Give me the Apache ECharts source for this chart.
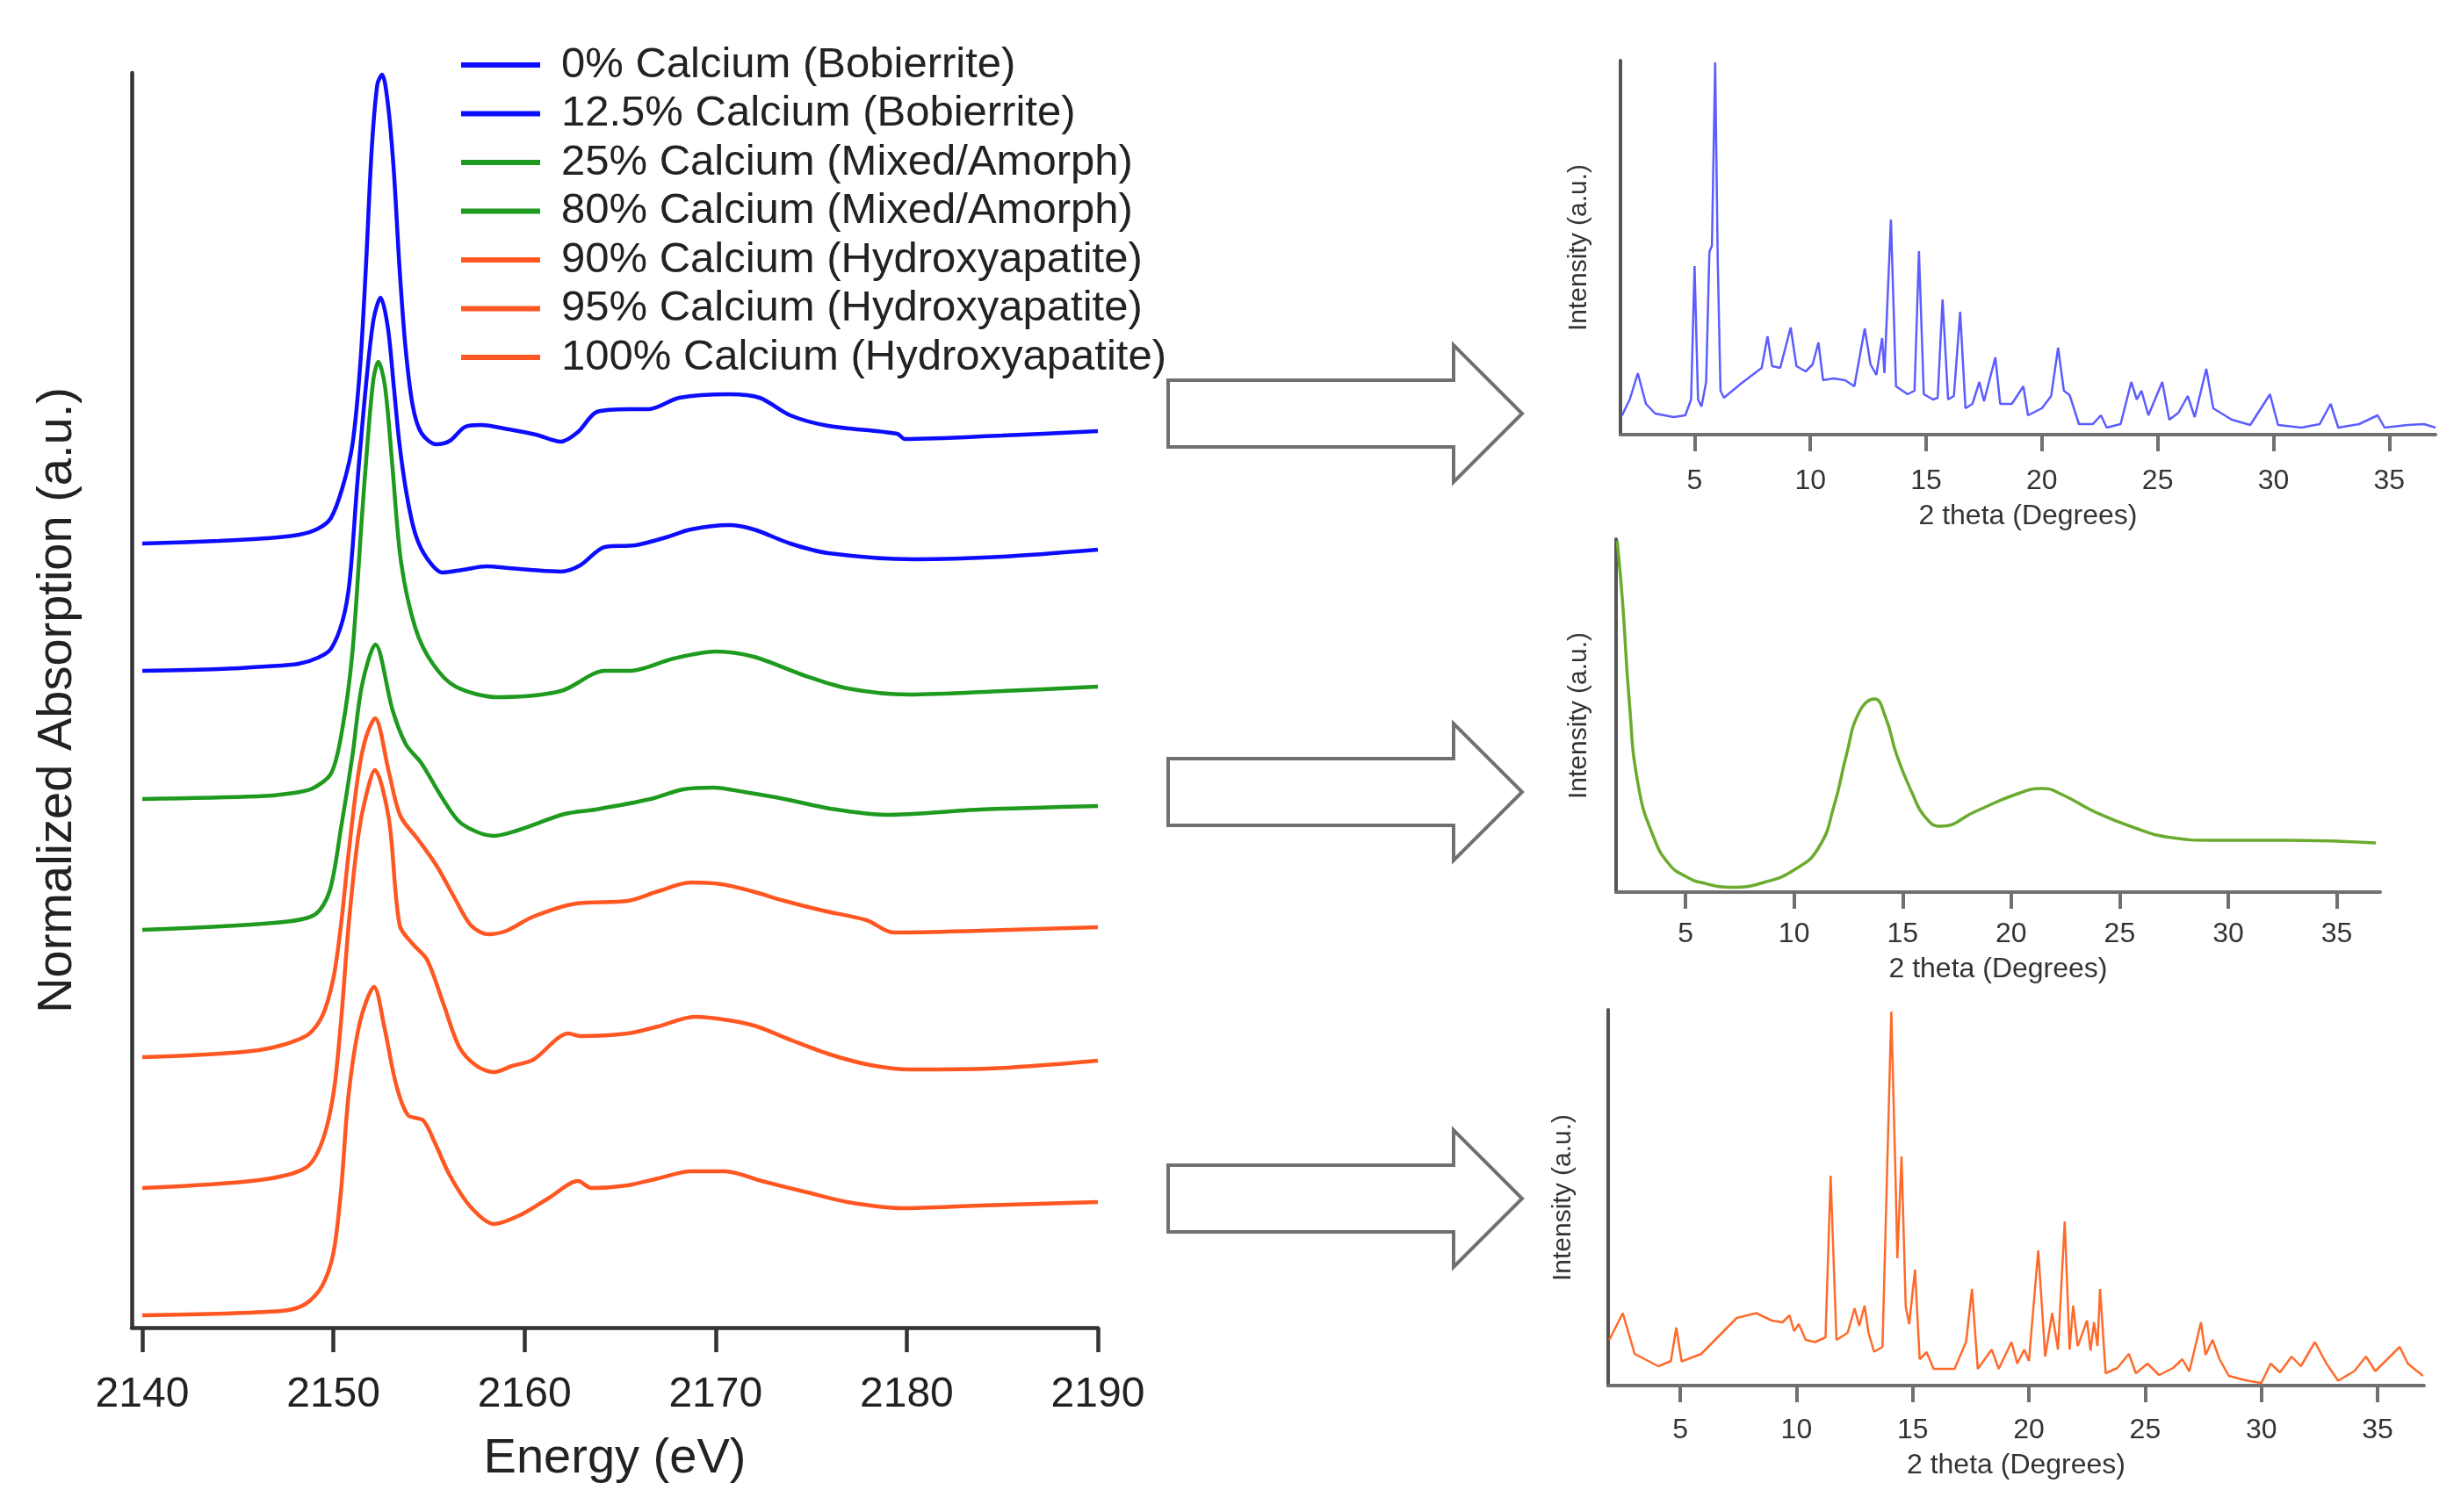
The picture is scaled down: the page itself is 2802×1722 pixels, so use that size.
<!DOCTYPE html>
<html>
<head>
<meta charset="utf-8">
<script src="https://cdn.jsdelivr.net/npm/echarts@6/dist/echarts.min.js"></script>
<style>
html,body{margin:0;padding:0;background:#fff;}
#c{width:2802px;height:1722px;}
</style>
</head>
<body>
<div id="c"></div>
<script>
// ---------- XANES spectra (Energy eV, normalized absorption incl. vertical offset) ----------
var seriesNames = [
  '0% Calcium (Bobierrite)',
  '12.5% Calcium (Bobierrite)',
  '25% Calcium (Mixed/Amorph)',
  '80% Calcium (Mixed/Amorph)',
  '90% Calcium (Hydroxyapatite)',
  '95% Calcium (Hydroxyapatite)',
  '100% Calcium (Hydroxyapatite)'
];
var ca0 = [[2140,8.93],[2144,8.96],[2146.5,8.99],[2148.2,9.03],[2149.2,9.1],[2149.87,9.22],[2150.48,9.57],[2151.0,10.06],[2151.4,10.95],[2151.7,12.07],[2152.0,13.4],[2152.3,14.16],[2152.55,14.27],[2152.85,13.94],[2153.16,13.18],[2153.46,12.07],[2153.77,11.17],[2154.15,10.5],[2154.6,10.19],[2155.38,10.06],[2156.1,10.1],[2156.9,10.26],[2157.7,10.28],[2159.2,10.23],[2160.6,10.17],[2161.9,10.09],[2162.8,10.2],[2163.8,10.43],[2165.5,10.46],[2166.5,10.46],[2168.1,10.59],[2170.7,10.63],[2172.3,10.59],[2173.9,10.39],[2175.9,10.27],[2179.5,10.18],[2179.9,10.12],[2185,10.16],[2190,10.21]];
var ca12 = [[2140,7.48],[2144,7.50],[2146.5,7.53],[2148.18,7.56],[2149.2,7.63],[2149.87,7.73],[2150.48,8.05],[2150.85,8.5],[2151.25,9.61],[2151.7,10.72],[2152.1,11.48],[2152.47,11.73],[2152.85,11.39],[2153.16,10.72],[2153.46,10.06],[2153.85,9.47],[2154.3,9.03],[2154.9,8.76],[2155.7,8.6],[2156.76,8.63],[2158.0,8.67],[2159.2,8.65],[2160.3,8.63],[2161.9,8.61],[2162.9,8.68],[2164.2,8.89],[2165.8,8.91],[2167.4,9.0],[2168.7,9.09],[2170.7,9.14],[2172.0,9.09],[2173.9,8.93],[2175.9,8.82],[2180.4,8.75],[2185,8.78],[2190,8.86]];
var ca25 = [[2140,6.02],[2146,6.05],[2147.6,6.08],[2148.9,6.14],[2149.9,6.32],[2150.5,6.86],[2151.0,7.7],[2151.47,9.16],[2151.78,10.06],[2152.1,10.81],[2152.35,11.0],[2152.7,10.72],[2153.08,9.83],[2153.54,8.72],[2154.3,7.96],[2155.2,7.56],[2156.4,7.30],[2158.6,7.18],[2161.9,7.25],[2164.2,7.48],[2165.5,7.48],[2167.8,7.62],[2170.0,7.70],[2172.0,7.64],[2174.6,7.43],[2176.9,7.28],[2180.1,7.21],[2185,7.25],[2190,7.30]];
var ca80 = [[2140,4.53],[2146.9,4.61],[2149.0,4.70],[2149.8,4.97],[2150.4,5.69],[2151.0,6.52],[2151.5,7.32],[2152.2,7.78],[2153.1,7.03],[2153.8,6.64],[2154.6,6.43],[2155.7,6.03],[2156.7,5.74],[2158.4,5.60],[2159.6,5.66],[2162.1,5.85],[2163.7,5.90],[2166.6,6.02],[2168.3,6.13],[2169.9,6.15],[2171.5,6.10],[2173.6,6.02],[2176.0,5.91],[2178.9,5.84],[2183.8,5.90],[2190,5.94]];
var ca90 = [[2140,3.08],[2146.1,3.16],[2148.55,3.32],[2149.4,3.54],[2150.0,3.98],[2150.4,4.59],[2150.8,5.41],[2151.3,6.3],[2151.7,6.72],[2152.18,6.94],[2152.9,6.33],[2153.5,5.83],[2154.46,5.55],[2155.4,5.26],[2156.3,4.91],[2157.2,4.58],[2158.1,4.48],[2159.06,4.52],[2160.45,4.68],[2162.7,4.83],[2165.4,4.86],[2167.0,4.97],[2168.7,5.07],[2170.3,5.05],[2171.9,4.97],[2173.6,4.86],[2175.6,4.75],[2177.9,4.64],[2179.3,4.50],[2183.8,4.52],[2190,4.56]];
var ca95 = [[2140,1.59],[2146.1,1.68],[2148.55,1.82],[2149.4,2.11],[2150.0,2.66],[2150.4,3.49],[2150.8,4.59],[2151.3,5.6],[2151.7,6.05],[2152.17,6.35],[2152.9,5.80],[2153.47,4.58],[2154.15,4.37],[2154.9,4.19],[2155.8,3.66],[2156.6,3.19],[2157.5,2.98],[2158.4,2.91],[2159.35,2.98],[2160.45,3.05],[2162.3,3.35],[2162.9,3.32],[2165.4,3.35],[2167.0,3.43],[2168.9,3.54],[2170.7,3.50],[2172.15,3.43],[2174.0,3.27],[2176.0,3.11],[2178.1,2.99],[2180.2,2.94],[2184.3,2.95],[2190,3.04]];
var ca100 = [[2140,0.14],[2147.3,0.19],[2148.55,0.27],[2149.4,0.47],[2150.0,0.85],[2150.4,1.56],[2150.8,2.66],[2151.4,3.49],[2152.13,3.88],[2152.66,3.43],[2153.28,2.77],[2153.9,2.42],[2154.7,2.36],[2155.3,2.11],[2156.1,1.73],[2157.2,1.37],[2158.4,1.18],[2159.85,1.29],[2161.3,1.48],[2162.8,1.67],[2163.5,1.59],[2165.4,1.62],[2167.0,1.70],[2168.7,1.78],[2170.5,1.78],[2172.4,1.67],[2174.8,1.54],[2176.9,1.43],[2179.75,1.36],[2183.8,1.39],[2190,1.43]];
var energyTicks = [2140,2150,2160,2170,2180,2190];

// ---------- XRD patterns (2 theta deg, intensity a.u.) ----------
var xrdBlue = [[1.87,22],[2.2,40],[2.55,70],[2.9,35],[3.3,24],[4.1,20],[4.6,22],[4.85,40],[5.0,192],[5.15,40],[5.3,32],[5.5,60],[5.64,208],[5.75,215],[5.89,424],[6.0,200],[6.12,50],[6.27,42],[7.0,58],[7.9,76],[8.15,112],[8.35,78],[8.7,76],[9.15,122],[9.4,78],[9.8,72],[10.1,80],[10.35,105],[10.55,62],[11.0,64],[11.5,62],[11.9,55],[12.35,121],[12.6,80],[12.85,68],[13.1,110],[13.2,70],[13.48,245],[13.7,55],[14.2,46],[14.5,50],[14.69,209],[14.9,46],[15.3,40],[15.5,42],[15.71,154],[15.95,40],[16.2,44],[16.47,140],[16.7,30],[17.0,35],[17.3,60],[17.5,38],[17.99,88],[18.2,35],[18.7,35],[19.2,55],[19.4,22],[20.0,30],[20.4,44],[20.7,99],[20.95,50],[21.2,45],[21.6,12],[22.2,12],[22.55,22],[22.8,8],[23.4,12],[23.86,60],[24.1,40],[24.3,50],[24.6,22],[25.2,60],[25.5,17],[25.9,25],[26.3,44],[26.6,20],[27.1,75],[27.4,30],[28.2,17],[29.0,11],[29.85,46],[30.2,11],[31.2,8],[32.0,12],[32.47,35],[32.8,8],[33.7,12],[34.5,22],[34.8,8],[35.8,11],[36.5,12],[37,8]];
var xrdGreen = [[1.85,400],[2.1,330],[2.4,220],[2.82,122],[3.54,62],[4.27,31],[5.0,18],[5.71,11],[7.16,5.5],[8.6,11],[10.05,26],[11.14,51],[11.86,100],[12.4,155],[13.0,205],[13.7,220],[14.2,200],[14.74,155],[15.47,111],[16.02,86],[16.75,75],[18.37,92],[20.18,111],[21.44,118],[22.35,111],[23.8,92],[25.6,74],[27.4,62],[29.2,59],[32.8,59],[36.8,56]];
var xrdOrange = [[1.95,52],[2.53,82.5],[3.04,36],[4.06,22],[4.6,28],[4.83,66],[5.06,27.5],[5.9,36],[7.43,77],[8.27,82.5],[8.94,74],[9.4,72],[9.7,80],[9.9,62],[10.1,70],[10.4,52],[10.8,49.5],[11.25,55],[11.47,239],[11.72,52],[12.2,60],[12.5,88],[12.7,68],[12.93,91],[13.1,60],[13.34,38.5],[13.7,44],[14.08,426],[14.25,250],[14.34,145],[14.52,261],[14.7,90],[14.85,70],[15.1,132],[15.3,30],[15.6,38],[15.9,19],[16.8,19],[17.3,50],[17.55,110],[17.8,19],[18.4,41],[18.7,19],[19.25,49.5],[19.5,25],[19.8,41],[20.0,28],[20.4,154],[20.7,33],[21.0,82.5],[21.25,41],[21.54,187],[21.75,41],[21.9,91],[22.1,45],[22.5,74],[22.65,40],[22.8,72],[22.95,45],[23.06,110],[23.3,14],[23.8,20],[24.3,36],[24.6,14],[25.1,25],[25.6,12],[26.2,20],[26.6,30],[26.9,16],[27.2,49.5],[27.4,72],[27.6,35],[27.9,52],[28.2,30],[28.6,11],[29.4,5.5],[30.0,3],[30.4,25],[30.8,15],[31.3,33],[31.7,22],[32.3,49.5],[32.8,25],[33.3,5.5],[34.0,16.5],[34.5,33],[34.9,16.5],[35.95,44],[36.3,25],[36.95,11]];
var thetaTicks = [5,10,15,20,25,30,35];

var FONT = "'Liberation Sans', Arial, Helvetica, sans-serif";
var BLUE = '#0c0cff', GREEN = '#1e9a1e', ORANGE = '#ff5722';
var xanesColors = [BLUE, BLUE, GREEN, GREEN, ORANGE, ORANGE, ORANGE];
var xanesData = [ca0, ca12, ca25, ca80, ca90, ca95, ca100];

var chart = echarts.init(document.getElementById('c'), null, {renderer:'canvas', width:2802, height:1722});

function plain(v){ return String(v); }

function xrdX(idx, min, max, labelMargin, nameGap){
  return {
    type:'value', gridIndex:idx, min:min, max:max,
    axisLine:{show:true, onZero:false, lineStyle:{color:'#707070', width:4}},
    axisTick:{show:true, inside:false, length:19, customValues:thetaTicks, lineStyle:{color:'#707070', width:4}},
    axisLabel:{show:true, customValues:thetaTicks, formatter:plain, fontSize:32, color:'#333', fontFamily:FONT, margin:labelMargin},
    splitLine:{show:false},
    name:'2 theta (Degrees)', nameLocation:'middle', nameGap:nameGap,
    nameTextStyle:{fontSize:32, color:'#333', fontFamily:FONT}
  };
}
function xrdY(idx, max, nameGap){
  return {
    type:'value', gridIndex:idx, min:0, max:max,
    axisLine:{show:true, onZero:false, lineStyle:{color:'#555', width:4}},
    axisTick:{show:false}, axisLabel:{show:false}, splitLine:{show:false},
    name:'Intensity (a.u.)', nameLocation:'middle', nameGap:nameGap,
    nameTextStyle:{fontSize:30, color:'#333', fontFamily:FONT}
  };
}

var series = [];
for (var i = 0; i < xanesData.length; i++) {
  series.push({
    name: seriesNames[i], type:'line', xAxisIndex:0, yAxisIndex:0,
    data: xanesData[i], showSymbol:false, smooth:0.3, color: xanesColors[i],
    lineStyle:{width:4.5, color: xanesColors[i]}, animation:false, z:3
  });
}
series.push({type:'line', xAxisIndex:1, yAxisIndex:1, data:xrdBlue, showSymbol:false, lineStyle:{width:2.5, color:'#5c5cff'}, animation:false});
series.push({type:'line', xAxisIndex:2, yAxisIndex:2, data:xrdGreen, showSymbol:false, smooth:0.5, lineStyle:{width:3.5, color:'#6aab2e'}, animation:false});
series.push({type:'line', xAxisIndex:3, yAxisIndex:3, data:xrdOrange, showSymbol:false, lineStyle:{width:2.5, color:'#ff6a2a'}, animation:false});

function arrow(cy){
  var L = 1330, B = 1655, T = 1733, bh = 38, hh = 78;
  return {
    type:'polygon', z:1,
    shape:{points:[[L,cy-bh],[B,cy-bh],[B,cy-hh],[T,cy],[B,cy+hh],[B,cy+bh],[L,cy+bh]]},
    style:{fill:'#fff', stroke:'#707070', lineWidth:4}
  };
}

chart.setOption({
  backgroundColor:'#fff',
  animation:false,
  textStyle:{fontFamily:FONT},
  grid:[
    {left:150, top:83, width:1100, height:1429, containLabel:false, outerBoundsMode:'none'},
    {left:1845, top:69, width:928, height:426, containLabel:false, outerBoundsMode:'none'},
    {left:1840, top:614, width:870, height:402, containLabel:false, outerBoundsMode:'none'},
    {left:1831, top:1150, width:929, height:428, containLabel:false, outerBoundsMode:'none'}
  ],
  legend:{
    show:true, orient:'vertical', left:520, top:44,
    itemWidth:90, itemHeight:6, itemGap:5.5, icon:'rect', selectedMode:false,
    data: seriesNames,
    textStyle:{fontSize:49, color:'#222', fontFamily:FONT, lineHeight:50, padding:[0,0,0,19]}
  },
  xAxis:[
    {
      type:'value', gridIndex:0, min:2139.45, max:2190,
      axisLine:{show:true, onZero:false, lineStyle:{color:'#333', width:4.5}},
      axisTick:{show:true, inside:false, length:28, customValues:energyTicks, lineStyle:{color:'#333', width:4.5}},
      axisLabel:{show:true, customValues:energyTicks, formatter:plain, fontSize:48, color:'#222', fontFamily:FONT, margin:53},
      splitLine:{show:false},
      name:'Energy (eV)', nameLocation:'middle', nameGap:122,
      nameTextStyle:{fontSize:56, color:'#222', fontFamily:FONT}
    },
    xrdX(1, 1.8, 37, 37, 77),
    xrdX(2, 1.8, 37, 32, 72),
    xrdX(3, 1.9, 37, 35, 75)
  ],
  yAxis:[
    {
      type:'value', gridIndex:0, min:0, max:14.29,
      axisLine:{show:true, onZero:false, lineStyle:{color:'#333', width:4.5}},
      axisTick:{show:false}, axisLabel:{show:false}, splitLine:{show:false},
      name:'Normalized Absorption (a.u.)', nameLocation:'middle', nameGap:56,
      nameTextStyle:{fontSize:56, color:'#222', fontFamily:FONT}
    },
    xrdY(1, 426, 32),
    xrdY(2, 402, 27),
    xrdY(3, 428, 36)
  ],
  graphic:[arrow(471), arrow(902), arrow(1365)],
  series: series
});
</script>
</body>
</html>
